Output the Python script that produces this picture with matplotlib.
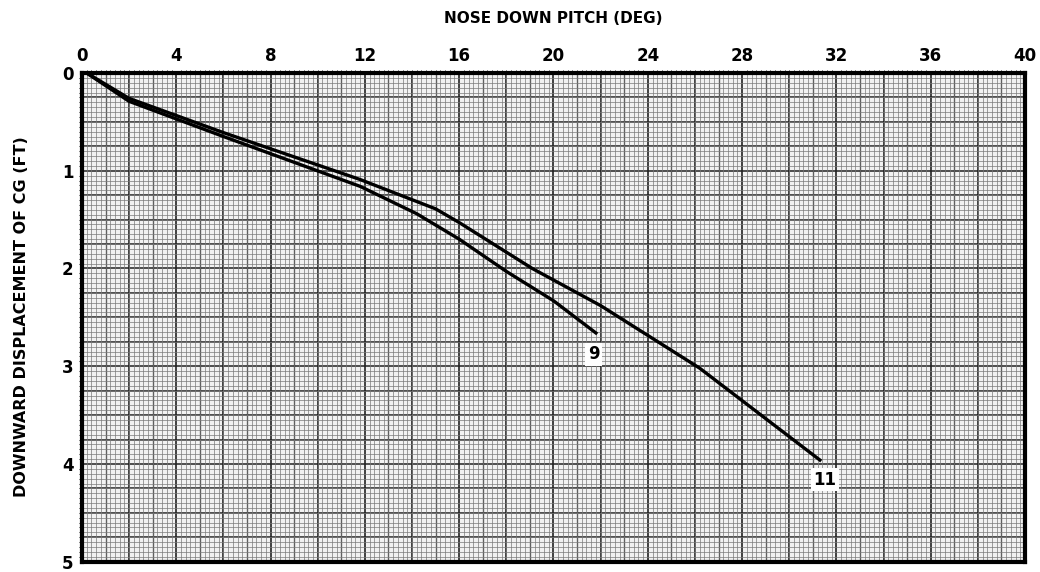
import numpy as np
import matplotlib
matplotlib.use('Agg')
import matplotlib.pyplot as plt
from matplotlib.ticker import MultipleLocator

plt.rcParams['font.family'] = ['DejaVu Sans']

# curve values (pitch deg, displacement ft)
pitch_11 = [0.2, 2, 6, 11.8, 15, 16, 19.1, 22, 26.2, 31.3]
disp_11 = [0.0, 0.26, 0.61, 1.09, 1.39, 1.53, 2.00, 2.38, 3.02, 3.96]

pitch_9 = [0.2, 2, 6, 11.8, 14.2, 16, 18, 20, 21.8]
disp_9 = [0.0, 0.29, 0.65, 1.16, 1.44, 1.70, 2.03, 2.33, 2.66]

x_ticks = [0, 4, 8, 12, 16, 20, 24, 28, 32, 36, 40]
y_ticks = [0, 1, 2, 3, 4, 5]

fig = plt.figure(figsize=(10.4, 5.72), dpi=100)
ax = fig.add_axes([0.0788, 0.018, 0.9068, 0.8544])
ax.set_facecolor('#f2f2f2')

ax.set_xlim(0, 40)
ax.set_ylim(5, 0)

# graph paper grid
ax.xaxis.set_minor_locator(MultipleLocator(0.2))
ax.yaxis.set_minor_locator(MultipleLocator(0.05))
ax.grid(which='minor', color='#7a7a7a', lw=0.5)
for v in np.arange(0, 40.01, 1):
    ax.axvline(v, color='#222222', lw=1.2 if v % 2 == 0 else 0.9, zorder=1)
for v in np.arange(0, 5.01, 0.25):
    ax.axhline(v, color='#222222', lw=1.1, zorder=1)

ax.plot(pitch_11, disp_11, color='black', lw=2.4, zorder=3)
ax.plot(pitch_9, disp_9, color='black', lw=2.4, zorder=3)

box = dict(boxstyle='square,pad=0.15', fc='white', ec='none')
ax.text(21.7, 2.88, '9', fontsize=12, fontweight='bold', ha='center', va='center', bbox=box, zorder=4)
ax.text(31.5, 4.16, '11', fontsize=12, fontweight='bold', ha='center', va='center', bbox=box, zorder=4)

ax.xaxis.tick_top()
ax.set_xticks(x_ticks)
ax.set_yticks(y_ticks)
ax.tick_params(length=0, labelsize=12, pad=6)
for lab in ax.get_xticklabels() + ax.get_yticklabels():
    lab.set_fontweight('bold')
ax.set_xticklabels([str(t) for t in x_ticks])

for s in ax.spines.values():
    s.set_linewidth(3)
    s.set_color('black')

fig.text(0.532, 0.968, 'NOSE DOWN PITCH (DEG)', fontsize=11, fontweight='bold', ha='center', va='center')
fig.text(0.021, 0.446, 'DOWNWARD DISPLACEMENT OF CG (FT)', fontsize=11.5, fontweight='bold',
         ha='center', va='center', rotation=90)

fig.savefig('out.png', dpi=100)
